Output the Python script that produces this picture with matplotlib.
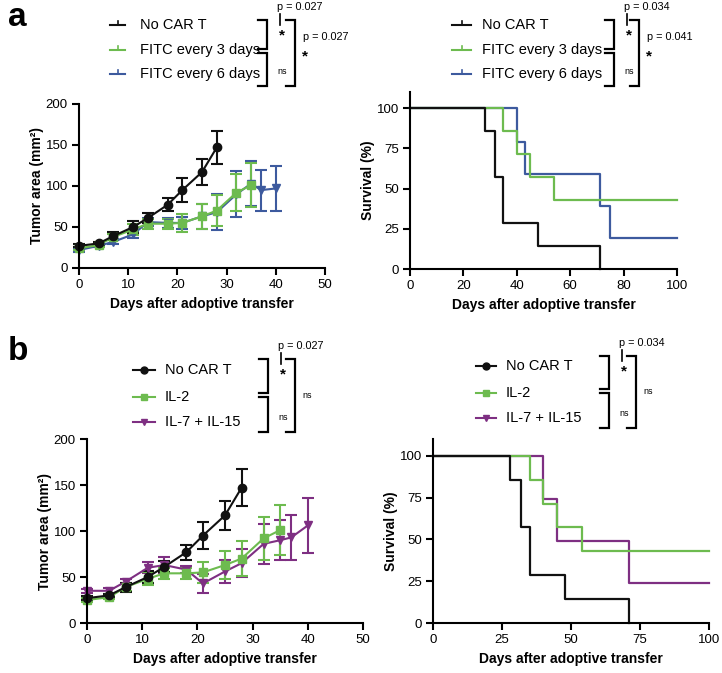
import numpy as np
import matplotlib.pyplot as plt

plt.rcParams['font.family'] = ['Liberation Sans', 'DejaVu Sans']

W, H = 722, 673

# colours
c_ctrl = '#111111'
c_green = '#6dbb4f'
c_blue = '#3d5a9e'
c_purple = '#7e2f82'

# tumor growth (mean, sem)
days_ctrl = [0, 4, 7, 11, 14, 18, 21, 25, 28]
area_ctrl = [27, 30, 39, 50, 61, 77, 95, 117, 147]
err_ctrl = [2, 2, 5, 7, 6, 8, 15, 16, 20]

days_fitc3 = [0, 4, 7, 11, 14, 18, 21, 25, 28, 32, 35]
area_fitc3 = [24, 28, 38, 47, 54, 54, 55, 63, 70, 92, 101]
err_fitc3 = [2, 2, 4, 7, 6, 6, 11, 15, 19, 23, 27]

days_fitc6 = [0, 4, 7, 11, 14, 18, 21, 25, 28, 32, 35, 37, 40]
area_fitc6 = [22, 27, 32, 41, 56, 55, 55, 63, 68, 90, 103, 95, 97]
err_fitc6 = [2, 2, 3, 4, 5, 6, 7, 15, 22, 28, 28, 25, 27]

days_il2 = [0, 4, 7, 11, 14, 18, 21, 25, 28, 32, 35]
area_il2 = [25, 28, 39, 48, 54, 54, 55, 63, 70, 92, 101]
err_il2 = [2, 2, 4, 7, 6, 6, 11, 15, 19, 23, 27]

days_il715 = [0, 4, 7, 11, 14, 18, 21, 25, 28, 32, 35, 37, 40]
area_il715 = [35, 35, 45, 60, 63, 58, 43, 56, 65, 86, 90, 93, 106]
err_il715 = [2, 3, 3, 6, 9, 4, 10, 12, 15, 22, 22, 24, 30]

# survival (Kaplan-Meier steps)
t_ctrl = [0, 28, 32, 35, 48, 71]
s_ctrl = [100, 85.7, 57.1, 28.6, 14.3, 0]
t_fitc3 = [0, 35, 40, 45, 54, 100]
s_fitc3 = [100, 85.7, 71.4, 57.1, 42.9, 42.9]
t_fitc6 = [0, 40, 43, 71, 75, 100]
s_fitc6 = [100, 79, 59, 39, 19, 19]
t_il2 = [0, 35, 40, 45, 54, 100]
s_il2 = [100, 85.7, 71.4, 57.1, 42.9, 42.9]
t_il715 = [0, 40, 45, 71, 100]
s_il715 = [100, 74, 49, 24, 24]

fig = plt.figure(figsize=(W / 100, H / 100), dpi=100)


def add_ax(l, t, r, b):
    return fig.add_axes([l / W, 1 - b / H, (r - l) / W, (b - t) / H])


def style(ax):
    for s in ['top', 'right']:
        ax.spines[s].set_visible(False)
    for s in ['left', 'bottom']:
        ax.spines[s].set_linewidth(1.5)
    ax.tick_params(direction='out', length=5, width=1.5, labelsize=9.5, pad=3)


def tumor(ax, series):
    for d, a, e, c, m in series:
        ax.errorbar(d, a, yerr=e, color=c, marker=m, ms=6, lw=1.5,
                    capsize=4, capthick=1.5, elinewidth=1.5, clip_on=False)
    ax.set_xlim(0, 50)
    ax.set_ylim(0, 200)
    ax.set_xticks([0, 10, 20, 30, 40, 50])
    ax.set_yticks([0, 50, 100, 150, 200])
    ax.set_xlabel('Days after adoptive transfer', fontsize=10, fontweight='bold', labelpad=4)
    ax.set_ylabel('Tumor area (mm²)', fontsize=10, fontweight='bold', labelpad=1)
    style(ax)


def survival(ax, series, xticks):
    for t, s, c in series:
        ax.step(t, s, where='post', color=c, lw=1.6, clip_on=False)
    ax.set_xlim(0, 100)
    ax.set_ylim(0, 110)
    ax.set_xticks(xticks)
    ax.set_yticks([0, 25, 50, 75, 100])
    ax.set_xlabel('Days after adoptive transfer', fontsize=10, fontweight='bold', labelpad=4)
    ax.set_ylabel('Survival (%)', fontsize=10, fontweight='bold', labelpad=1)
    style(ax)


ax1 = add_ax(79, 104, 325, 268)
tumor(ax1, [(days_fitc6, area_fitc6, err_fitc6, c_blue, 'v'),
            (days_fitc3, area_fitc3, err_fitc3, c_green, 's'),
            (days_ctrl, area_ctrl, err_ctrl, c_ctrl, 'o')])

ax2 = add_ax(410, 92, 677, 269)
survival(ax2, [(t_fitc6, s_fitc6, c_blue), (t_fitc3, s_fitc3, c_green),
               (t_ctrl, s_ctrl, c_ctrl)], [0, 20, 40, 60, 80, 100])

ax3 = add_ax(87, 439, 363, 623)
tumor(ax3, [(days_il715, area_il715, err_il715, c_purple, 'v'),
            (days_il2, area_il2, err_il2, c_green, 's'),
            (days_ctrl, area_ctrl, err_ctrl, c_ctrl, 'o')])

ax4 = add_ax(433, 439, 709, 623)
survival(ax4, [(t_il715, s_il715, c_purple), (t_il2, s_il2, c_green),
               (t_ctrl, s_ctrl, c_ctrl)], [0, 25, 50, 75, 100])

# overlay in pixel coordinates for legends and statistics
ov = fig.add_axes([0, 0, 1, 1])
ov.set_xlim(0, W)
ov.set_ylim(H, 0)
ov.axis('off')

ov.text(8, 18, 'a', fontsize=24, fontweight='bold', va='center', ha='left')
ov.text(8, 352, 'b', fontsize=24, fontweight='bold', va='center', ha='left')


def legend(x0, x1, xt, rows, labels, colors, markers):
    for y, lab, c, m in zip(rows, labels, colors, markers):
        ov.plot([x0, x1], [y, y], color=c, lw=1.5)
        if m == 'tick':
            ov.plot([(x0 + x1) / 2] * 2, [y, y - 4], color=c, lw=1.2)
        else:
            ov.plot([(x0 + x1) / 2], [y], marker=m, color=c, ms=5)
        ov.text(xt, y, lab, fontsize=10.5, va='center', ha='left')


def bracket(x, y0, y1, w):
    ov.plot([x - w, x, x, x - w], [y0, y0, y1, y1], color='k', lw=1.6,
            solid_joinstyle='miter')


def stats(xi, xo, top, mid, bot, p1, p2, outer_sig):
    bracket(xi, top, mid - 2, 9)
    bracket(xi, mid + 2, bot, 9)
    bracket(xo, top, bot, 9)
    ov.plot([xi + 13, xi + 13], [top - 6, top + 5], color='k', lw=1.2)
    ov.text(xi + 10, top - 13, p1, fontsize=7.8, ha='left', va='center')
    ov.text(xi + 15, top + 15, '*', fontsize=11, fontweight='bold', ha='center', va='center')
    ov.text(xi + 15, bot - 14, 'ns', fontsize=6.5, ha='center', va='center')
    if outer_sig:
        ov.text(xo + 10, (top + bot) / 2 + 3, '*', fontsize=11, fontweight='bold',
                ha='center', va='center')
        ov.text(xo + 8, (top + bot) / 2 - 16, p2, fontsize=7.8, ha='left', va='center')
    else:
        ov.text(xo + 7, mid, 'ns', fontsize=6.5, ha='left', va='center')


labs_a = ['No CAR T', 'FITC every 3 days', 'FITC every 6 days']
cols_a = [c_ctrl, c_green, c_blue]
legend(110, 125, 140, [25, 50, 74], labs_a, cols_a, ['tick'] * 3)
stats(267, 295, 20, 51, 86, 'p = 0.027', 'p = 0.027', True)

legend(452, 471, 482, [25, 50, 74], labs_a, cols_a, ['tick'] * 3)
stats(614, 639, 20, 51, 86, 'p = 0.034', 'p = 0.041', True)

labs_b = ['No CAR T', 'IL-2', 'IL-7 + IL-15']
cols_b = [c_ctrl, c_green, c_purple]
legend(133, 155, 165, [370, 397, 422], labs_b, cols_b, ['o', 's', 'v'])
stats(268, 295, 359, 395, 432, 'p = 0.027', '', False)

legend(476, 496, 506, [366, 393, 418], labs_b, cols_b, ['o', 's', 'v'])
stats(609, 636, 356, 391, 428, 'p = 0.034', '', False)

plt.savefig('out.png', dpi=100)
